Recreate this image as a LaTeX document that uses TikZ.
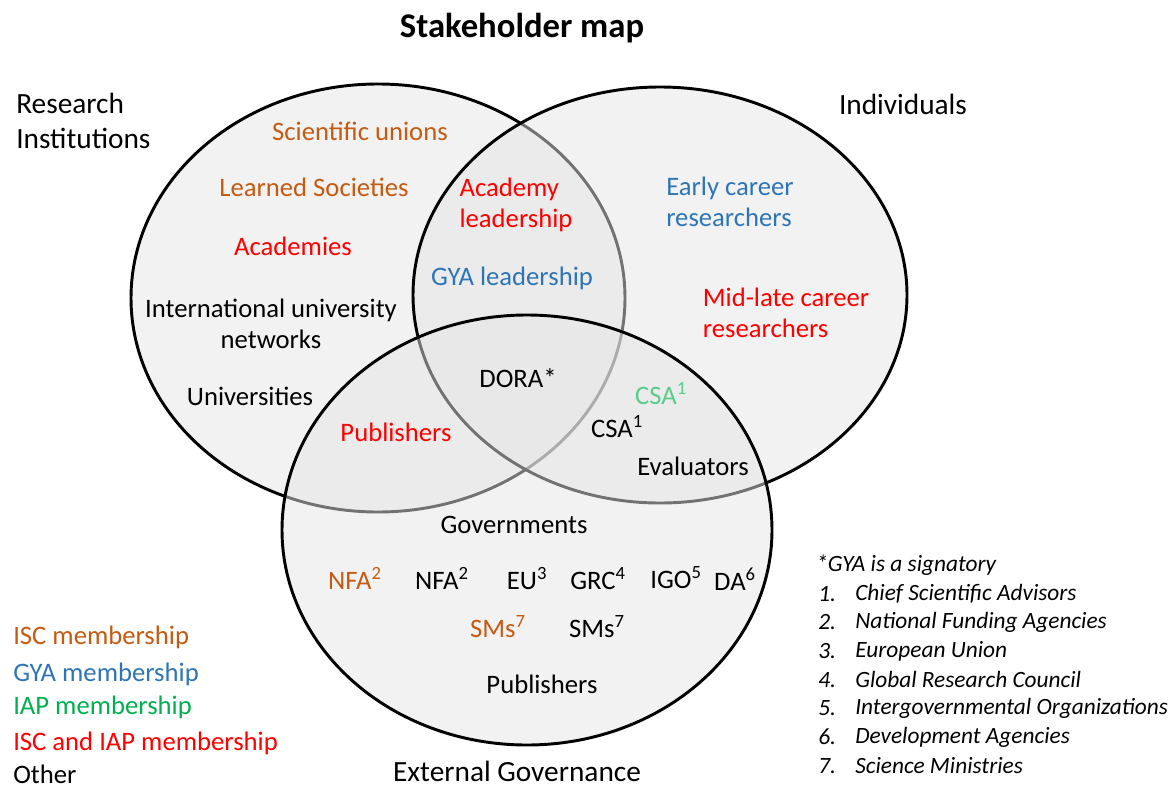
\documentclass[tikz,border=0pt]{standalone}
\usepackage{fontspec}
\setmainfont{Carlito}
\usepackage{tikz}
\definecolor{iscorange}{RGB}{197, 90, 17}
\definecolor{gyablue}{RGB}{46, 117, 182}
\definecolor{iapgreen}{RGB}{0, 176, 80}
\definecolor{iaplight}{RGB}{89, 204, 141}
\definecolor{bothred}{RGB}{255, 0, 0}

\begin{document}
\begin{tikzpicture}[x=0.75pt, y=-0.75pt,
  set/.style={draw=black, line width=2.2pt, fill=black!10, fill opacity=0.5},
  item/.style={font=\fontsize{20}{23.25}\selectfont, align=center, inner sep=0pt},
  setname/.style={font=\fontsize{22}{26.25}\selectfont, align=left, inner sep=0pt},
  key/.style={font=\fontsize{20}{23.25}\selectfont, anchor=west, inner sep=0pt},
  note/.style={font=\fontsize{17.5}{21}\selectfont\itshape, anchor=west, inner sep=0pt}]
  \useasboundingbox (0,0) rectangle (1174,789);
  % the three sets, filled one after the other
  \draw[set] (378,298) ellipse [x radius=247, y radius=214];
  \draw[set] (660,295) ellipse [x radius=247, y radius=208];
  \draw[set] (527,530) ellipse [x radius=245, y radius=215];

  \node[font=\fontsize{26}{30}\selectfont\bfseries, inner sep=0pt] (title) at (522,28) {Stakeholder map};
  \node[setname, anchor=west] (research) at (16,121) {Research\\Institutions};
  \node[setname] (individuals) at (903,104) {Individuals};
  \node[setname] (governance) at (517,771) {External Governance};

  % research institutions
  \node[item, text=iscorange] (unions) at (360,131) {Scientific unions};
  \node[item, text=iscorange] (societies) at (314,187) {Learned Societies};
  \node[item, text=bothred] (academies) at (293,246) {Academies};
  \node[item] (networks) at (271,324) {International university\\networks};
  \node[item] (universities) at (250,396) {Universities};
  % individuals
  \node[item, align=left, text=bothred] (leaders) at (516,205) {Academy\\leadership};
  \node[item, text=gyablue] (gyalead) at (512,278) {GYA leadership};
  \node[item, align=left, text=gyablue] (early) at (730,202) {Early career\\researchers};
  \node[item, align=left, text=bothred] (midlate) at (786,313) {Mid-late career\\researchers};
  % overlaps
  \node[item] (dora) at (518,378) {DORA*};
  \node[item, text=iaplight] (csagreen) at (661,394) {CSA\textsuperscript{1}};
  \node[item] (csa) at (617,427) {CSA\textsuperscript{1}};
  \node[item] (evaluators) at (693,466) {Evaluators};
  \node[item, text=bothred] (publishred) at (396,432) {Publishers};
  % external governance
  \node[item] (governments) at (514,525) {Governments};
  \node[item, text=iscorange] (nfaisc) at (355,578) {NFA\textsuperscript{2}};
  \node[item] (nfa) at (442,578) {NFA\textsuperscript{2}};
  \node[item] (eu) at (527,579) {EU\textsuperscript{3}};
  \node[item] (grc) at (598,579) {GRC\textsuperscript{4}};
  \node[item] (igo) at (676,578) {IGO\textsuperscript{5}};
  \node[item] (da) at (735,579) {DA\textsuperscript{6}};
  \node[item, text=iscorange] (smsisc) at (498,627) {SMs\textsuperscript{7}};
  \node[item] (sms) at (597,627) {SMs\textsuperscript{7}};
  \node[item] (publishers) at (542,684) {Publishers};

  % colour key
  \foreach \txt/\col/\yy [count=\i] in {ISC membership/iscorange/637, GYA membership/gyablue/674,
      IAP membership/iapgreen/707, ISC and IAP membership/bothred/743, Other/black/774}
    \node[key, text=\col] (key\i) at (13,\yy) {\txt};

  % footnotes
  \node[note] (signatory) at (816,565) {*GYA is a signatory};
  \foreach \txt [count=\i] in {Chief Scientific Advisors, National Funding Agencies, European Union,
      Global Research Council, Intergovernmental Organizations, Development Agencies, Science Ministries}
  {
    \node[note] (num\i) at (818,565+28.7*\i) {\i.};
    \node[note] (abbr\i) at (855,565+28.7*\i) {\txt};
  }
\end{tikzpicture}
\end{document}
